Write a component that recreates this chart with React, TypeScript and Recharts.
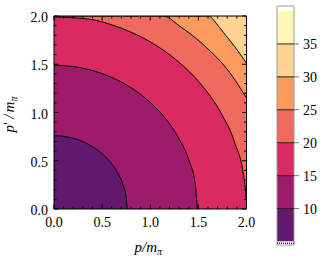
import React from 'react';
import { ComposedChart, Area, XAxis, YAxis, ReferenceArea, ReferenceLine } from 'recharts';

const FONT = "'Liberation Serif', 'Times New Roman', Times, serif";

// Contour levels and band colours (band i spans colorbarBounds[i]..colorbarBounds[i+1])
const colorbarBounds = [5, 10, 15, 20, 25, 30, 35, 40];
const bandColors = ['#63186f', '#9d1b6a', '#d92b62', '#ee6b5e', '#fb9c5e', '#fed394', '#fff7b8'];
const colorbarTicks = [10, 15, 20, 25, 30, 35];
const contourLevels = [10, 15, 20, 25, 30, 35];

// Axis ticks (minor every 0.1, labels on the 0.5 marks)
const axisTicks = [0, 0.1, 0.2, 0.3, 0.4, 0.5, 0.6, 0.7, 0.8, 0.9, 1.0, 1.1, 1.2, 1.3, 1.4, 1.5, 1.6, 1.7, 1.8, 1.9, 2.0];
const majorTicks = [0, 0.5, 1.0, 1.5, 2.0];

// Contour lines (x = p/m_pi, y = p'/m_pi)
const plotTop = [
  { x: 0, y: 2 },
  { x: 2, y: 2 },
];
const contour30 = [
  { x: 0, y: 2 },
  { x: 1.6, y: 2 },
  { x: 1.72, y: 1.88 },
  { x: 1.8, y: 1.78 },
  { x: 1.88, y: 1.68 },
  { x: 2.0, y: 1.51 },
];
const contour25 = [
  { x: 0, y: 2 },
  { x: 1.13, y: 2 },
  { x: 1.32, y: 1.885 },
  { x: 1.48, y: 1.765 },
  { x: 1.63, y: 1.63 },
  { x: 1.765, y: 1.49 },
  { x: 1.885, y: 1.33 },
  { x: 2.0, y: 1.15 },
];
const contour20 = [
  { x: 0, y: 1.99 },
  { x: 0.347, y: 1.97 },
  { x: 0.684, y: 1.879 },
  { x: 1.0, y: 1.732 },
  { x: 1.286, y: 1.532 },
  { x: 1.532, y: 1.286 },
  { x: 1.732, y: 1.0 },
  { x: 1.879, y: 0.684 },
  { x: 1.97, y: 0.347 },
  { x: 1.992, y: 0.174 },
  { x: 2.0, y: 0.08 },
];
const contour15 = [
  { x: 0, y: 1.49 },
  { x: 0.259, y: 1.467 },
  { x: 0.51, y: 1.4 },
  { x: 0.745, y: 1.29 },
  { x: 0.958, y: 1.141 },
  { x: 1.141, y: 0.958 },
  { x: 1.29, y: 0.745 },
  { x: 1.4, y: 0.51 },
  { x: 1.467, y: 0.259 },
  { x: 1.49, y: 0 },
];
const contour10 = [
  { x: 0, y: 0.76 },
  { x: 0.132, y: 0.748 },
  { x: 0.26, y: 0.714 },
  { x: 0.38, y: 0.658 },
  { x: 0.489, y: 0.582 },
  { x: 0.582, y: 0.489 },
  { x: 0.658, y: 0.38 },
  { x: 0.714, y: 0.26 },
  { x: 0.748, y: 0.132 },
  { x: 0.76, y: 0 },
];

const isMajor = (v: number) => majorTicks.some((m) => Math.abs(m - v) < 1e-6);
const MAJ = 4.5;
const MIN = 2.5;

const BottomTick = (props: any) => {
  const { x, y, payload } = props;
  const v = payload.value as number;
  const major = isMajor(v);
  return (
    <g>
      <line x1={x} x2={x} y1={y} y2={y - (major ? MAJ : MIN)} stroke="#000" strokeWidth={1} />
      {major && (
        <text x={x} y={y + 18} textAnchor="middle" fontFamily={FONT} fontSize={14} fill="#000">
          {v.toFixed(1)}
        </text>
      )}
    </g>
  );
};

const TopTick = (props: any) => {
  const { x, y, payload } = props;
  const major = isMajor(payload.value);
  return <line x1={x} x2={x} y1={y} y2={y + (major ? MAJ : MIN)} stroke="#000" strokeWidth={1} />;
};

const LeftTick = (props: any) => {
  const { x, y, payload } = props;
  const v = payload.value as number;
  const major = isMajor(v);
  return (
    <g>
      <line x1={x} x2={x + (major ? MAJ : MIN)} y1={y} y2={y} stroke="#000" strokeWidth={1} />
      {major && (
        <text x={x - 6} y={y + 6} textAnchor="end" fontFamily={FONT} fontSize={14} fill="#000">
          {v.toFixed(1)}
        </text>
      )}
    </g>
  );
};

const RightTick = (props: any) => {
  const { x, y, payload } = props;
  const major = isMajor(payload.value);
  return <line x1={x} x2={x - (major ? MAJ : MIN)} y1={y} y2={y} stroke="#000" strokeWidth={1} />;
};

const XLabel = (props: any) => {
  const vb = props.viewBox || { x: 54, y: 209, width: 193 };
  const cx = vb.x + vb.width / 2 - 2;
  return (
    <text x={cx} y={vb.y + 43} textAnchor="middle" fontFamily={FONT} fontSize={15} fill="#000">
      <tspan fontStyle="italic">p</tspan>
      <tspan fontStyle="italic">/</tspan>
      <tspan fontStyle="italic">m</tspan>
      <tspan fontStyle="italic" fontSize={10} dy={3}>π</tspan>
    </text>
  );
};

const YLabel = (props: any) => {
  const vb = props.viewBox || { x: 53, y: 16, height: 193 };
  const cy = vb.y + vb.height / 2 + 2;
  const lx = 14;
  return (
    <text
      x={lx}
      y={cy}
      transform={`rotate(-90 ${lx} ${cy})`}
      textAnchor="middle"
      fontFamily={FONT}
      fontSize={15}
      fill="#000"
    >
      <tspan fontStyle="italic">p</tspan>
      <tspan>′</tspan>
      <tspan fontStyle="italic" dx={3}>/</tspan>
      <tspan fontStyle="italic" dx={2}>m</tspan>
      <tspan fontStyle="italic" fontSize={10} dy={3}>π</tspan>
    </text>
  );
};

const contourSeries = [
  { data: contour30, fill: bandColors[4] },
  { data: contour25, fill: bandColors[3] },
  { data: contour20, fill: bandColors[2] },
  { data: contour15, fill: bandColors[1] },
  { data: contour10, fill: bandColors[0] },
];

const cbData = [{ x: 0 }, { x: 1 }];

export default function App() {
  return (
    <div style={{ position: 'absolute', left: 0, top: 0, width: 329, height: 273, background: '#fff' }}>
      <div style={{ position: 'absolute', left: 0, top: 0 }}>
        <ComposedChart width={329} height={273} margin={{ top: 15, right: 81.5, bottom: 63, left: 53 }}>
          <Area
            data={plotTop}
            dataKey="y"
            type="linear"
            stroke="none"
            fill={bandColors[5]}
            fillOpacity={1}
            baseValue={0}
            dot={false}
            activeDot={false}
            isAnimationActive={false}
          />
          {contourSeries.map((s, i) => (
            <Area
              key={i}
              data={s.data}
              dataKey="y"
              type="monotone"
              stroke="#000"
              strokeWidth={1}
              fill={s.fill}
              fillOpacity={1}
              baseValue={0}
              dot={false}
              activeDot={false}
              isAnimationActive={false}
            />
          ))}
          <XAxis
            type="number"
            dataKey="x"
            domain={[0, 2]}
            allowDataOverflow
            ticks={axisTicks}
            interval={0}
            height={1}
            tickSize={0}
            tickMargin={0}
            tickLine={false}
            tick={<BottomTick />}
            axisLine={{ stroke: '#000', strokeWidth: 1 }}
            label={<XLabel />}
          />
          <XAxis
            xAxisId="top"
            orientation="top"
            type="number"
            dataKey="x"
            domain={[0, 2]}
            allowDataOverflow
            ticks={axisTicks}
            interval={0}
            height={1}
            tickSize={0}
            tickMargin={0}
            tickLine={false}
            tick={<TopTick />}
            axisLine={{ stroke: '#000', strokeWidth: 1 }}
          />
          <YAxis
            type="number"
            domain={[0, 2]}
            allowDataOverflow
            ticks={axisTicks}
            interval={0}
            width={1}
            tickSize={0}
            tickMargin={0}
            tickLine={false}
            tick={<LeftTick />}
            axisLine={{ stroke: '#000', strokeWidth: 1 }}
            label={<YLabel />}
          />
          <YAxis
            yAxisId="right"
            orientation="right"
            type="number"
            domain={[0, 2]}
            allowDataOverflow
            ticks={axisTicks}
            interval={0}
            width={1}
            tickSize={0}
            tickMargin={0}
            tickLine={false}
            tick={<RightTick />}
            axisLine={{ stroke: '#000', strokeWidth: 1 }}
          />
        </ComposedChart>
      </div>
      <div style={{ position: 'absolute', left: 0, top: 0 }}>
        <ComposedChart width={329} height={273} data={cbData} margin={{ top: 6, right: 34, bottom: 28, left: 277 }}>
          <XAxis type="number" dataKey="x" domain={[0, 1]} hide />
          <YAxis
            orientation="right"
            type="number"
            domain={[4.47, 40.76]}
            allowDataOverflow
            ticks={colorbarTicks}
            interval={0}
            width={1}
            tickSize={5}
            tickMargin={4}
            tickLine={{ stroke: '#777', strokeWidth: 1 }}
            axisLine={false}
            tick={{ fontFamily: FONT, fontSize: 14, fill: '#000' }}
          />
          {bandColors.map((c, i) => (
            <ReferenceArea
              key={i}
              x1={0}
              x2={1}
              y1={colorbarBounds[i]}
              y2={colorbarBounds[i + 1]}
              fill={c}
              fillOpacity={1}
              stroke="none"
            />
          ))}
          <ReferenceArea x1={0} x2={1} y1={40} y2={40.76} fill="#fff" fillOpacity={1} stroke="none" />
          <ReferenceArea x1={0} x2={1} y1={4.47} y2={5} fill="#fff" fillOpacity={1} stroke="none" />
          <ReferenceLine y={4.75} stroke="#333" strokeWidth={1.5} strokeDasharray="1 1" />
          {contourLevels.map((l) => (
            <ReferenceLine key={l} y={l} stroke="#2a1a1a" strokeWidth={1} />
          ))}
          <ReferenceArea x1={0} x2={1} y1={4.47} y2={40.76} fill="none" fillOpacity={0} stroke="#999" strokeWidth={1} />
        </ComposedChart>
      </div>
    </div>
  );
}
